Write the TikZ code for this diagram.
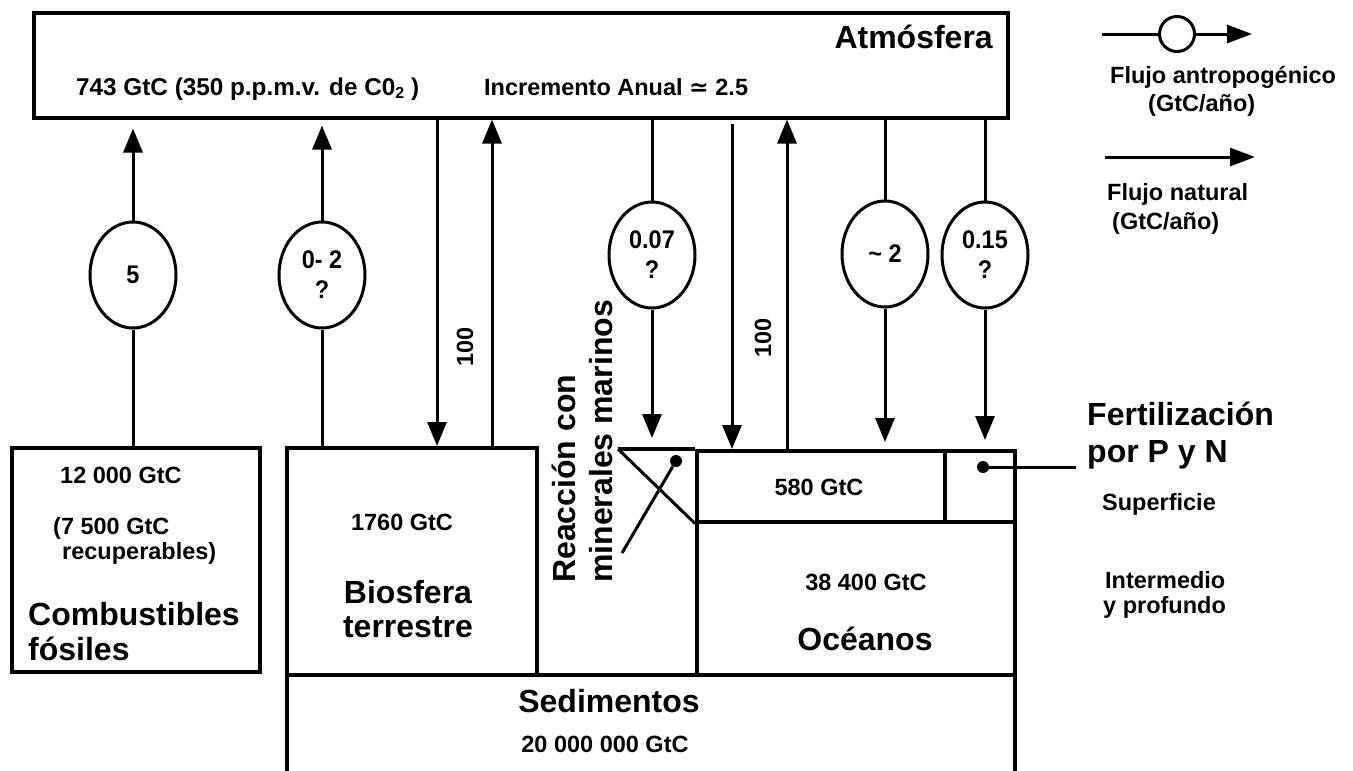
\documentclass[tikz,border=0pt]{standalone}
\usepackage{fontspec}
\setmainfont{Liberation Sans}
\newfontfamily\djv{DejaVu Sans}
\newfontfamily\narrowf[FakeStretch=0.92]{Liberation Sans}
\usetikzlibrary{shapes.geometric,arrows.meta}
\newcommand\TxtS{\fontsize{23.5}{28}\selectfont\bfseries}
\newcommand\TxtE{\narrowf\fontsize{25.5}{30}\selectfont\bfseries}
\newcommand\TxtL{\fontsize{32}{35}\selectfont\bfseries}
\begin{document}
\begin{tikzpicture}[x=1pt,y=-1pt,
 box/.style={draw, line width=3.5pt, inner sep=0, anchor=north west},
 flux/.style={draw, ellipse, line width=3pt, minimum width=86pt, minimum height=106pt, inner sep=0, font=\TxtE, align=center, fill=white},
 conn/.style={line width=3pt},
 arr/.style={line width=3pt, -{Triangle[length=24pt,width=19pt]}},
 larr/.style={line width=3pt, -{Triangle[length=25pt,width=18pt]}},
 txs/.style={inner sep=0, font=\TxtS},
 txl/.style={inner sep=0, font=\TxtL},
 dot/.style={circle, fill=black, inner sep=0, minimum size=12pt},
]
\useasboundingbox[fill=white] (0,0) rectangle (1353,771);

% reservoirs
\node[box, minimum width=728pt, minimum height=150pt] (sed) at (285,673) {};
\node[box, minimum width=974pt, minimum height=105pt] (atm) at (32,11) {};
\node[box, minimum width=248pt, minimum height=224pt] (comb) at (10,446) {};
\node[box, minimum width=250pt, minimum height=227pt] (bio) at (285,446) {};
\node[box, minimum width=318pt, minimum height=153pt] (deep) at (695,520) {};
\node[box, minimum width=248pt, minimum height=71pt] (surf) at (695,449) {};
\node[box, minimum width=70pt, minimum height=71pt] (fert) at (943,449) {};

% mineral triangle
\coordinate (tri) at (618,449);
\draw[line width=3.5pt] (tri) -- (surf.north west);
\draw[conn] (tri) -- (surf.south west);
\node[dot] (dotm) at (676,461) {};
\coordinate (mend) at (622,553);
\draw[conn] (dotm) -- (mend);
\node[dot] (dotf) at (983,467) {};
\coordinate (fend) at (1076,467);
\draw[conn] (dotf) -- (fend);

% flux ellipses
\node[flux] (e5) at (133,275) {5};
\node[flux] (e02) at (322,275) {0- 2\\?};
\node[flux] (e007) at (652,255) {0.07\\?};
\node[flux] (e2) at (885,254) {\textasciitilde\ 2};
\node[flux] (e015) at (985,255) {0.15\\?};

% anthropogenic flows
\draw[conn] (e5.south |- comb.north) -- (e5.south);
\draw[arr, shorten >=9pt] (e5.north) -- (e5.north |- atm.south);
\draw[conn] (e02.south |- bio.north) -- (e02.south);
\draw[arr, shorten >=6pt] (e02.north) -- (e02.north |- atm.south);
\draw[conn] (e007.north |- atm.south) -- (e007.north);
\draw[arr, shorten >=11pt] (e007.south) -- (e007.south |- surf.north);
\draw[conn] (e2.north |- atm.south) -- (e2.north);
\draw[arr, shorten >=7pt] (e2.south) -- (e2.south |- surf.north);
\draw[conn] (e015.north |- atm.south) -- (e015.north);
\draw[arr, shorten >=9pt] (e015.south) -- (e015.south |- surf.north);

% natural flows
\coordinate (n1) at (437,0);
\coordinate (n2) at (492,0);
\coordinate (n3) at (732,0);
\coordinate (n4) at (787,0);
\draw[arr] (n1 |- atm.south) -- (n1 |- bio.north);
\draw[arr] (n2 |- bio.north) -- (n2 |- atm.south);
\draw[arr, shorten <=4pt] (n3 |- atm.south) -- (n3 |- surf.north);
\draw[arr] (n4 |- surf.north) -- (n4 |- atm.south);
\node[txs, rotate=90] (c100a) at (465,347) {100};
\node[txs, rotate=90] (c100b) at (763,338) {100};

% texts
\node[txl, anchor=base east] (atmt) at (993,48) {Atmósfera};
\node[txs, anchor=base west] (atmv) at (76,95) {\fontsize{24.3}{28}\selectfont 743 GtC (350 p.p.m.v. de C0\raisebox{-3pt}{\fontsize{16}{16}\selectfont 2} )};
\node[txs, anchor=base west] (inc) at (484,95) {Incremento Anual {\djv\bfseries ≃} 2.5};

\node[txs, anchor=base west] (cv1) at (60,483) {12 000 GtC};
\node[txs, anchor=base west] (cv2) at (53,534) {(7 500 GtC};
\node[txs, anchor=base west] (cv3) at (62,559) {recuperables)};
\node[txl, anchor=base west] (cn1) at (28,625) {Combustibles};
\node[txl, anchor=base west] (cn2) at (28,660) {fósiles};

\node[txs, anchor=base] (bv) at (402,530) {1760 GtC};
\node[txl, anchor=base] (bn1) at (408,603) {Biosfera};
\node[txl, anchor=base] (bn2) at (408,637) {terrestre};

\node[txs, anchor=base] (sv) at (819,495) {580 GtC};
\node[txs, anchor=base] (dv) at (866,590) {38 400 GtC};
\node[txl, anchor=base] (dn) at (865,650) {Océanos};
\node[txl, anchor=base] (sn) at (609,712) {Sedimentos};
\node[txs, anchor=base] (sdv) at (605,752) {20 000 000 GtC};

\node[txl, anchor=base west, rotate=90] (r1) at (575,583) {Reacción con};
\node[txl, anchor=base west, rotate=90] (r2) at (612,583) {minerales marinos};

\node[txl, anchor=base west] (f1) at (1087,425) {Fertilización};
\node[txl, anchor=base west] (f2) at (1087,462) {por P y N};
\node[txs, anchor=base west] (lsup) at (1102,510) {Superficie};
\node[txs, anchor=base west] (lint1) at (1105,588) {Intermedio};
\node[txs, anchor=base west] (lint2) at (1103,613) {y profundo};

% legend
\coordinate (la1) at (1102,34);
\coordinate (la2) at (1252,34);
\node[circle, draw, line width=3pt, fill=white, minimum size=35pt, inner sep=0] (lc) at (1177,34) {};
\draw[conn] (la1) -- (lc);
\draw[larr] (lc) -- (la2);
\node[txs, anchor=base west] (lt1) at (1110,83) {Flujo antropogénico};
\node[txs, anchor=base west] (lt2) at (1148,111) {(GtC/año)};
\coordinate (lb1) at (1105,157);
\coordinate (lb2) at (1255,157);
\draw[larr] (lb1) -- (lb2);
\node[txs, anchor=base west] (lt3) at (1107,200) {Flujo natural};
\node[txs, anchor=base west] (lt4) at (1112,229) {(GtC/año)};
\end{tikzpicture}
\end{document}
